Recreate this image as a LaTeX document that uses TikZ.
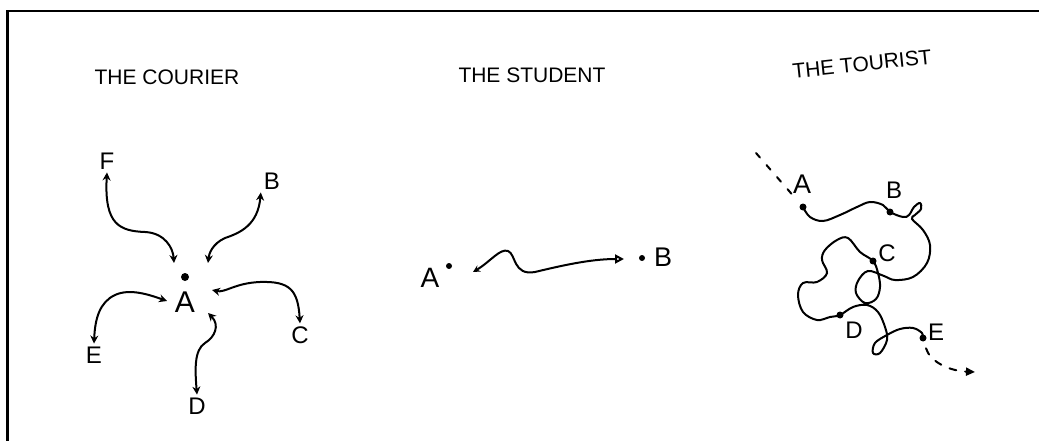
\documentclass[tikz,border=0pt]{standalone}
\usepackage{fontspec}
\setmainfont{Liberation Sans}
\usetikzlibrary{arrows.meta}

\tikzset{
  hand/.style={line width=2pt, line cap=round},
  lbl/.style={font=\fontsize{24}{28}\selectfont, inner sep=3pt},
  title/.style={font=\fontsize{21}{24}\selectfont},
  spot/.style={circle, fill, inner sep=0pt, minimum size=7pt}
}

\begin{document}
\begin{tikzpicture}[x=1pt, y=-1pt, >={Stealth[length=8pt,width=8pt]}]

  \useasboundingbox (0,0) rectangle (1039,441);

  % Frame on the top and left edges
  \draw[line width=2.5pt] (7.5,441) -- (7.5,11) -- (1039,11);

  % Titles
  \node[title] (tcourier) at (167,77) {THE COURIER};
  \node[title] (tstudent) at (532,75) {THE STUDENT};
  \node[title, rotate=6] (ttourist) at (862,64) {THE TOURIST};

  % Courier: A in the middle
  \node[lbl, font=\fontsize{30}{34}\selectfont] (ca) at (185,302) {A};
  \node[spot, minimum size=8pt] (cadot) at (185,277) {};

  % Courier: places around A
  \foreach \nm/\txt/\pos in {cf/F/{(107,161)}, cb/B/{(272,181)}, cc/C/{(300,335)},
                             cd/D/{(197,406)}, ce/E/{(94,355)}}
    \node[lbl] (\nm) at \pos {\txt};

  % Arrow ends next to A
  \coordinate (cfa) at (174,263);
  \coordinate (cba) at (208,263);
  \coordinate (cca) at (212,290);
  \coordinate (cda) at (208,313);
  \coordinate (cea) at (167,301);

  % Courier arrows, both ways
  \draw[hand,<->] (cf.south) .. controls (104,225) and (120,231) .. (145,232)
    .. controls (165,233) and (173,248) .. (cfa);
  \draw[hand,<->] (cb.south west) .. controls (258,225) and (240,233) .. (225,238)
    .. controls (212,244) and (209,254) .. (cba);
  \draw[hand,<->] (cca) .. controls (225,293) and (235,283) .. (260,282)
    .. controls (290,281) and (298,290) .. (cc.north);
  \draw[hand,<->] (cda) .. controls (220,325) and (215,337) .. (205,343)
    .. controls (194,350) and (195,370) .. (cd.north);
  \draw[hand,<->] (cea) .. controls (150,295) and (130,288) .. (115,295)
    .. controls (100,302) and (95,318) .. (ce.north);

  % Student
  \node[lbl, font=\fontsize{28}{32}\selectfont] (sa) at (430,278) {A};
  \node[spot, minimum size=6pt] (sadot) at (449,266) {};
  \node[spot, minimum size=6pt] (sbdot) at (642,258) {};
  \node[lbl, font=\fontsize{27}{30}\selectfont] (sb) at (663,257) {B};
  \coordinate (sfrom) at (473,272);
  \coordinate (sto) at (624,259);
  \draw[hand, {Stealth[length=7pt,width=7pt]}-{Triangle[open,length=9pt,width=9pt]}]
    (sfrom) .. controls (490,262) and (500,248) .. (508,251)
    .. controls (516,254) and (513,276) .. (535,272)
    .. controls (560,266) and (590,259) .. (sto);

  % Tourist: stops
  \node[spot] (ta) at (803,207) {};
  \node[spot] (tb) at (890,212) {};
  \node[spot] (tc) at (873,261) {};
  \node[spot] (td) at (840,315) {};
  \node[spot] (te) at (923,338) {};
  \node[lbl, font=\fontsize{27}{30}\selectfont] (tal) at (802,184) {A};
  \node[lbl] (tbl) at (894,190) {B};
  \node[lbl] (tcl) at (887,253) {C};
  \node[lbl] (tdl) at (854,330) {D};
  \node[lbl] (tel) at (936,332) {E};

  % Tourist: coming in and going on
  \coordinate (tin) at (756,153);
  \coordinate (tout) at (975,372);
  \draw[hand, dash pattern=on 6pt off 10pt, shorten >=10pt] (tin) -- (ta);
  \draw[hand, dash pattern=on 7pt off 9pt, shorten <=7pt,
        -{Triangle[length=9pt,width=8pt]}]
    (te) .. controls (930,362) and (950,371) .. (tout);

  % Tourist: the wander
  \draw[hand] plot[smooth, tension=0.6] coordinates {
    (ta) (810,217) (823,221) (840,215) (857,207) (870,202) (883,205) (tb)
    (903,217) (909,215) (914,207) (920,203) (921,209) (915,215) (912,219)
    (923,230) (930,245) (927,263) (913,277) (895,280) (884,276)
    (868,271) (858,281) (856,293) (865,303) (876,299) (880,287) (878,273) (tc)
    (860,252) (848,238) (837,240) (825,250) (822,260) (827,273) (817,282)
    (803,283) (798,295) (803,312) (817,320) (830,317) (td)
    (853,307) (867,305) (878,312) (885,327) (887,340) (880,353) (873,353)
    (875,343) (887,335) (900,329) (913,328) (922,333) (te)
  };

\end{tikzpicture}
\end{document}
